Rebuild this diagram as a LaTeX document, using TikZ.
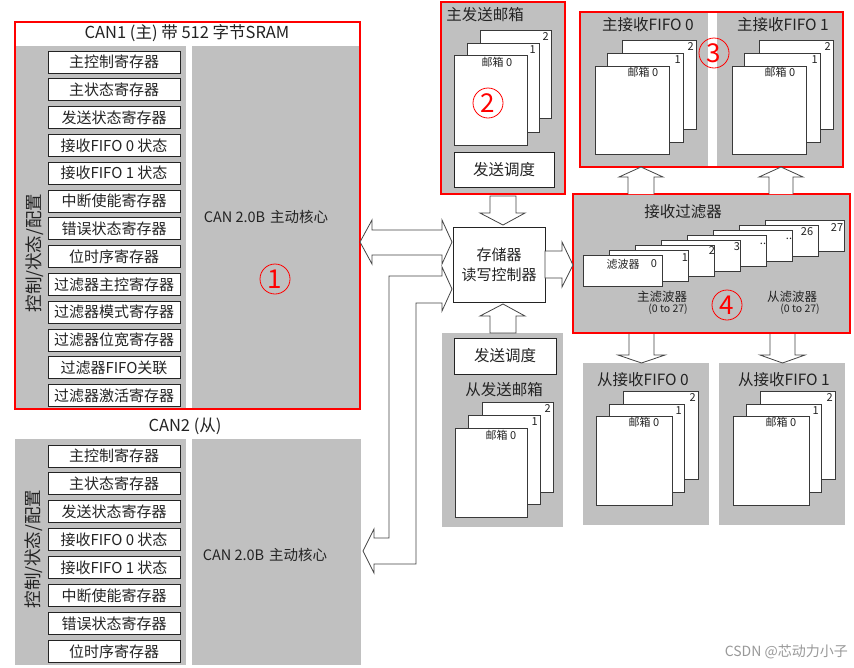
\documentclass[tikz,border=0pt]{standalone}
\usepackage{fontspec}
\setmainfont{Noto Sans CJK SC}
\definecolor{pgray}{RGB}{192,192,192}
\definecolor{ink}{RGB}{35,35,35}
\definecolor{lred}{RGB}{255,0,0}
\tikzset{
  redbox/.style={draw=lred, line width=1.3pt},
  reg/.style={draw=ink, fill=white, line width=0.9pt, minimum width=132pt, minimum height=22pt, inner sep=0pt, font=\fontsize{15}{15}\selectfont, text=ink},
  card/.style={draw=ink!90, fill=white, line width=0.8pt},
  barrow/.style={draw=ink!85, fill=white, line width=0.8pt, line join=miter},
  lbl/.style={text=ink, inner sep=0pt},
  big/.style={lbl, font=\fontsize{15.5}{15.5}\selectfont},
  small/.style={lbl, font=\fontsize{11}{11}\selectfont},
  num/.style={circle, draw=lred, line width=0.8pt, minimum size=30pt, inner sep=0pt, text=lred, font=\fontsize{26}{26}\selectfont},
}
\begin{document}
\begin{tikzpicture}[x=1pt,y=-1pt]
\useasboundingbox (0,0) rectangle (854,667);
\fill[white] (0,0) rectangle (854,667);

% ---------------- CAN1 ----------------
\fill[pgray] (15,46) rectangle (186,408);
\fill[pgray] (192,46) rectangle (360,408);
\draw[redbox] (15,22) rectangle (360,409);
\node[lbl, font=\fontsize{16.5}{16.5}\selectfont] (t1) at (187,33) {CAN1 (主) 带 512 字节SRAM};
\foreach \t [count=\i from 0] in {主控制寄存器,主状态寄存器,发送状态寄存器,接收FIFO 0 状态,接收FIFO 1 状态,中断使能寄存器,错误状态寄存器,位时序寄存器,过滤器主控寄存器,过滤器模式寄存器,过滤器位宽寄存器,过滤器FIFO关联,过滤器激活寄存器}
  \node[reg] (ra\i) at ({114},{62+27.8*\i}) {\t};
\node[lbl, rotate=90, font=\fontsize{17.5}{17.5}\selectfont] (v1) at (35,253) {控制/状态/配置};
\node[lbl, font=\fontsize{14.5}{14.5}\selectfont] (core1) at (266,217) {CAN 2.0B\hspace{5pt}主动核心};
\node[num] (n1) at (275,279) {1};

% ---------------- CAN2 ----------------
\node[lbl, font=\fontsize{16.5}{16.5}\selectfont] (t2) at (185,426) {CAN2 (从)};
\fill[pgray] (15,439) rectangle (186,665);
\fill[pgray] (192,439) rectangle (361,665);
\foreach \t [count=\i from 0] in {主控制寄存器,主状态寄存器,发送状态寄存器,接收FIFO 0 状态,接收FIFO 1 状态,中断使能寄存器,错误状态寄存器,位时序寄存器}
  \node[reg] (rb\i) at ({114},{456+27.9*\i}) {\t};
\node[lbl, rotate=90, font=\fontsize{17.5}{17.5}\selectfont] (v2) at (34,549) {控制/状态/配置};
\node[lbl, font=\fontsize{14.5}{14.5}\selectfont] (core2) at (265,555) {CAN 2.0B\hspace{5pt}主动核心};

% ---------------- master TX mailbox ----------------
\fill[pgray] (441,2) rectangle (565,194);
\draw[redbox] (441,2) rectangle (565,194);
\node[big] (ttx) at (485,15) {主发送邮箱};
\draw[card] (480,30) rectangle (551,118);
\draw[card] (467,43) rectangle (539,132);
\draw[card] (454,55) rectangle (527,145);
\node[small, anchor=north east] (mt2) at (549,32) {2};
\node[small, anchor=north east] (mt1) at (536,45) {1};
\node[small, anchor=north] (mt0) at (497,57) {邮箱 0};
\node[num] (n2) at (488,103) {2};
\node[draw=ink, fill=white, line width=0.9pt, minimum width=100pt, minimum height=35pt, inner sep=0pt, big] (sch1) at (504,170) {发送调度};

% ---------------- slave TX mailbox ----------------
\fill[pgray] (442,333) rectangle (563,527);
\node[draw=ink, fill=white, line width=0.9pt, minimum width=102pt, minimum height=36pt, inner sep=0pt, big] (sch2) at (505,356) {发送调度};
\node[big] (stx) at (504,390) {从发送邮箱};
\draw[card] (482,402) rectangle (553,492);
\draw[card] (468,415) rectangle (540,504);
\draw[card] (455,428) rectangle (527,517);
\node[small, anchor=north east] (st2) at (551,404) {2};
\node[small, anchor=north east] (st1) at (538,417) {1};
\node[small, anchor=north] (st0) at (501,430) {邮箱 0};

% ---------------- controller ----------------
\node[draw=ink, fill=white, line width=0.9pt, minimum width=92pt, minimum height=75pt, inner sep=0pt, align=center, lbl, font=\fontsize{15}{20}\selectfont] (ctl) at (499,264.5) {存储器\\读写控制器};

% ---------------- master RX FIFOs ----------------
\fill[pgray] (580,12) rectangle (708,167);
\fill[pgray] (717,12) rectangle (843,167);
\draw[redbox] (580,12) rectangle (843,167);
\node[big] (mr0) at (648,25) {主接收FIFO 0};
\node[big] (mr1) at (783,25) {主接收FIFO 1};
\foreach \dx/\nm in {0/a,137/b}{
  \draw[card] ({622+\dx},40) rectangle ({696+\dx},129);
  \draw[card] ({607+\dx},53) rectangle ({683+\dx},142);
  \draw[card] ({595+\dx},66) rectangle ({669+\dx},154);
  \node[small, anchor=north east] (mr\nm2) at ({694+\dx},42) {2};
  \node[small, anchor=north east] (mr\nm1) at ({681+\dx},55) {1};
  \node[small, anchor=north] (mr\nm0) at ({643+\dx},67) {邮箱 0};
}
\node[num] (n3) at (714,53) {3};

% ---------------- filters ----------------
\fill[pgray] (573,194) rectangle (850,333);
\draw[redbox] (573,194) rectangle (850,333);
\node[big] (ft) at (683,212) {接收过滤器};
\foreach \k in {7,6,...,0}
  \draw[card] ({583+26*\k},{255-5*\k}) rectangle ++(79,31);
\node[small] (f0a) at (623,264) {滤波器};
\node[small] (f0b) at (654,264) {0};
\node[small] (f1) at (685,258) {1};
\node[small] (f2) at (712,251) {2};
\node[small] (f3) at (737,247) {3};
\node[small] (f4) at (763,244) {..};
\node[small] (f5) at (789,239) {..};
\node[small] (f6) at (807,232) {26};
\node[small] (f7) at (837,228) {27};
\node[lbl, font=\fontsize{12.5}{12.5}\selectfont] (fm) at (662,297) {主滤波器};
\node[lbl, font=\fontsize{10.5}{10.5}\selectfont] (fmr) at (668,309) {(0 to 27)};
\node[lbl, font=\fontsize{12.5}{12.5}\selectfont] (fs) at (792,297) {从滤波器};
\node[lbl, font=\fontsize{10.5}{10.5}\selectfont] (fsr) at (800,309) {(0 to 27)};
\node[num] (n4) at (727,305) {4};

% ---------------- slave RX FIFOs ----------------
\fill[pgray] (583,363) rectangle (709,525);
\fill[pgray] (719,363) rectangle (845,525);
\node[big] (sr0) at (643,380) {从接收FIFO 0};
\node[big] (sr1) at (784,380) {从接收FIFO 1};
\foreach \dx/\nm in {0/a,137/b}{
  \draw[card] ({623+\dx},391) rectangle ({698+\dx},479);
  \draw[card] ({609+\dx},404) rectangle ({684+\dx},492);
  \draw[card] ({596+\dx},416) rectangle ({672+\dx},505);
  \node[small, anchor=north east] (sr\nm2) at ({696+\dx},393) {2};
  \node[small, anchor=north east] (sr\nm1) at ({682+\dx},406) {1};
  \node[small, anchor=north] (sr\nm0) at ({644+\dx},417) {邮箱 0};
}

% ---------------- block arrows ----------------
% TX mailbox -> controller
\draw[barrow] (490,196) -- (516,196) -- (516,213) -- (525,213) -- (503,225) -- (480,213) -- (490,213) -- cycle;
% slave TX -> controller
\draw[barrow] (490,333) -- (516,333) -- (516,316) -- (525,316) -- (503,304) -- (480,316) -- (490,316) -- cycle;
% controller -> filter
\draw[barrow] (545,251) -- (562,251) -- (562,242) -- (573,265) -- (562,287) -- (562,278) -- (545,278) -- cycle;
% CAN1 <-> controller
\draw[barrow] (360,242) -- (372,220) -- (372,230) -- (442,230) -- (442,220) -- (452,242) -- (442,264) -- (442,255) -- (372,255) -- (372,264) -- cycle;
% CAN2 <-> controller
\draw[barrow] (452,289) -- (442,311) -- (442,303) -- (416,303) -- (416,564) -- (374,564) -- (374,573) -- (363,551) -- (374,529) -- (374,538) -- (389,538) -- (389,276) -- (442,276) -- (442,267) -- cycle;
% filter -> master RX
\draw[barrow] (628,194) -- (628,177) -- (619,177) -- (641,167) -- (663,177) -- (654,177) -- (654,194);
\draw[barrow] (769,194) -- (769,177) -- (759,177) -- (781,167) -- (803,177) -- (793,177) -- (793,194);
% filter -> slave RX
\draw[barrow] (629,334) -- (629,355) -- (618,355) -- (641.5,363) -- (665,355) -- (654,355) -- (654,334);
\draw[barrow] (770,334) -- (770,355) -- (760,355) -- (782.5,363) -- (805,355) -- (795,355) -- (795,334);

% watermark
\node[anchor=east, inner sep=0pt, text=black!40, font=\fontsize{14}{14}\selectfont] (wm) at (848,652) {CSDN @芯动力小子};
\end{tikzpicture}
\end{document}
